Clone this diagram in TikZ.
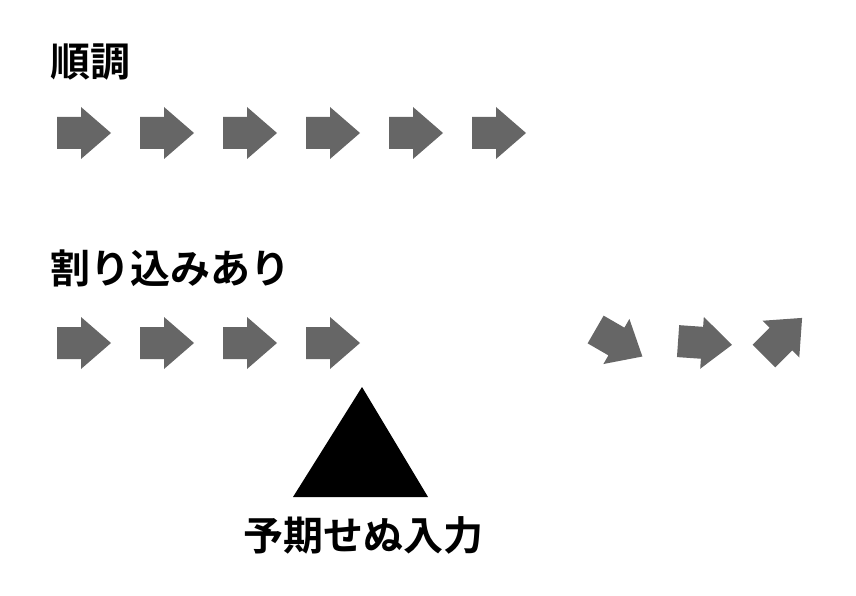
\documentclass[tikz,border=0pt]{standalone}
\usepackage{fontspec}
\newfontfamily\cjk{Noto Sans CJK JP Bold}
\begin{document}
\begin{tikzpicture}[x=1pt,y=-1pt,
  blk/.pic={\fill[arrowgray] (-27,-16) -- (-3,-16) -- (-3,-26) -- (27,0) -- (-3,26) -- (-3,16) -- (-27,16) -- cycle;},
  lbl/.style={font=\cjk\fontsize{40}{40}\selectfont, anchor=west, inner sep=0pt}]
\definecolor{arrowgray}{HTML}{666666}
\useasboundingbox (0,0) rectangle (856,596);
\node[lbl] (t1) at (50,62) {順調};
\node[lbl] (t2) at (50,268) {割り込みあり};
\node[lbl] (t3) at (243,535) {予期せぬ入力};
\foreach \i in {0,...,5} \pic at (84+83*\i,133) {blk};
\foreach \i in {0,...,3} \pic at (84+83*\i,343) {blk};
\pic[rotate=-30] at (619,343) {blk};
\pic[rotate=-4] at (705,343) {blk};
\pic[rotate=45] at (783,337) {blk};
\fill (362,387) -- (428,497) -- (293,497) -- cycle;
\end{tikzpicture}
\end{document}
